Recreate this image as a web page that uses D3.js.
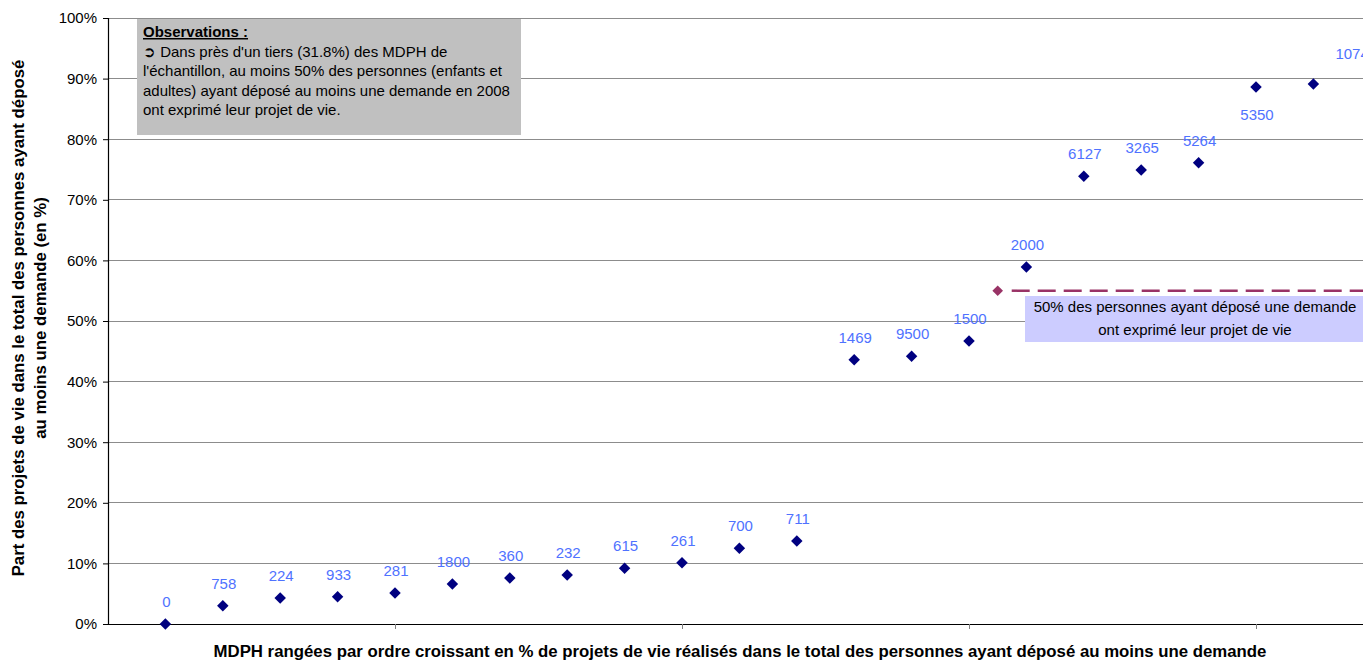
<!DOCTYPE html>
<html><head><meta charset="utf-8">
<script src="https://cdn.jsdelivr.net/npm/d3@7"></script>
<style>
html,body{margin:0;padding:0;background:#fff;}
svg{display:block;font-family:"Liberation Sans",Arial,sans-serif;}
</style></head>
<body>
<svg id="chart" width="1363" height="662"></svg>
<script>
// ---- data ----
const ranks = [1,2,3,4,5,6,7,8,9,10,11,12,13,14,15,16,17,18,19,20,21];
const shares = [0.000,0.030,0.043,0.045,0.051,0.066,0.076,0.081,0.092,0.101,0.125,0.137,
                0.436,0.442,0.467,0.589,0.739,0.749,0.761,0.886,0.891];
const labels = ["0","758","224","933","281","1800","360","232","615","261","700","711",
                "1469","9500","1500","2000","6127","3265","5264","5350","1074"];
const yTicks = [0,0.1,0.2,0.3,0.4,0.5,0.6,0.7,0.8,0.9,1.0];
const xTicks = [5,10,15,20];
const thresholdX = 15.5;
const thresholdY = 0.55;
const obsTitle = "Observations :";
const obsLines = ["\u27B2 Dans près d'un tiers (31.8%) des MDPH de",
  "l'échantillon, au moins 50% des personnes (enfants et",
  "adultes) ayant déposé au moins une demande en 2008",
  "ont exprimé leur projet de vie."];
const noteLines = ["50% des personnes ayant déposé une demande","ont exprimé leur projet de vie"];
const yTitle = ["Part des projets de vie dans le total des personnes ayant déposé","au moins une demande (en %)"];
const xTitle = "MDPH rangées par ordre croissant en % de projets de vie réalisés dans le total des personnes ayant déposé au moins une demande";

// ---- layout ----
const svg = d3.select("#chart");
const x = d3.scaleLinear().domain([0,25]).range([108,1543]);
const y = d3.scaleLinear().domain([0,1]).range([624,18]);
const FS = 15, TFS = 16.8;

// gridlines
svg.append("g").selectAll("line").data(yTicks.filter(t=>t>0)).join("line")
  .attr("x1",108).attr("x2",1363).attr("y1",d=>y(d)).attr("y2",d=>y(d))
  .attr("stroke","#8c8c8c").attr("stroke-width",1).attr("shape-rendering","crispEdges");

// y axis
const yAxis = d3.axisLeft(y).tickValues(yTicks).tickFormat(d3.format(".0%")).tickSize(5).tickPadding(6);
const gy = svg.append("g").attr("transform","translate(108,0)").call(yAxis);
gy.select(".domain").attr("stroke","#000").attr("stroke-width",1.2);
gy.selectAll(".tick line").attr("stroke","#000");
gy.selectAll("text").attr("font-size",FS).attr("font-family","Liberation Sans, Arial").attr("fill","#000");

// x axis
const xAxis = d3.axisBottom(x).tickValues(xTicks).tickFormat("").tickSize(5).tickSizeOuter(0);
const gx = svg.append("g").attr("transform","translate(0,624)").call(xAxis);
gx.select(".domain").attr("stroke","#000").attr("stroke-width",1.2);
gx.selectAll(".tick line").attr("stroke","#808080");

// observation box
const obs = svg.append("g");
obs.append("rect").attr("x",137).attr("y",19).attr("width",384).attr("height",116).attr("fill","#c0c0c0");
obs.append("text").attr("x",143).attr("y",37).attr("font-size",FS).attr("font-weight","bold")
  .attr("text-decoration","underline").text(obsTitle);
obs.selectAll("text.l").data(obsLines).join("text").attr("class","l")
  .attr("x",143).attr("y",(d,i)=>56.5+i*19.5).attr("font-size",FS).attr("fill","#000").text(d=>d);

// threshold line + marker
svg.append("line").attr("x1",x(thresholdX)+14).attr("x2",1363)
  .attr("y1",y(thresholdY)).attr("y2",y(thresholdY))
  .attr("stroke","#993366").attr("stroke-width",2.5).attr("stroke-dasharray","18,8");
svg.append("path").attr("d",d3.symbol(d3.symbolDiamond2,72)())
  .attr("transform",`translate(${x(thresholdX)},${y(thresholdY)})`).attr("fill","#993366");

// note box
const note = svg.append("g");
note.append("rect").attr("x",1025).attr("y",296).attr("width",338).attr("height",46).attr("fill","#ccccff");
note.selectAll("text").data(noteLines).join("text")
  .attr("x",1195).attr("y",(d,i)=>312+i*23).attr("text-anchor","middle").attr("font-size",FS).attr("fill","#000").text(d=>d);

// points
svg.append("g").selectAll("path").data(ranks).join("path")
  .attr("d",d3.symbol(d3.symbolDiamond2,84)())
  .attr("transform",(d,i)=>`translate(${x(d)},${y(shares[i])})`).attr("fill","#000080");

// data labels
svg.append("g").selectAll("text").data(ranks).join("text")
  .attr("font-size",FS).attr("fill","#4f72ff")
  .attr("text-anchor",(d,i)=> i===20 ? "start" : "middle")
  .attr("x",(d,i)=> x(d) + (i===20 ? 22 : 1))
  .attr("y",(d,i)=> y(shares[i]) + (i===19 ? 33 : i===20 ? -25 : -17))
  .text((d,i)=>labels[i]);

// axis titles
svg.append("g").attr("transform","translate(0,318) rotate(-90)")
  .selectAll("text").data(yTitle).join("text")
  .attr("x",0).attr("y",(d,i)=>24+i*22).attr("text-anchor","middle")
  .attr("font-size",TFS).attr("font-weight","bold").text(d=>d);
svg.append("text").attr("x",740).attr("y",657).attr("text-anchor","middle")
  .attr("font-size",TFS).attr("font-weight","bold").text(xTitle);
</script>
</body></html>
